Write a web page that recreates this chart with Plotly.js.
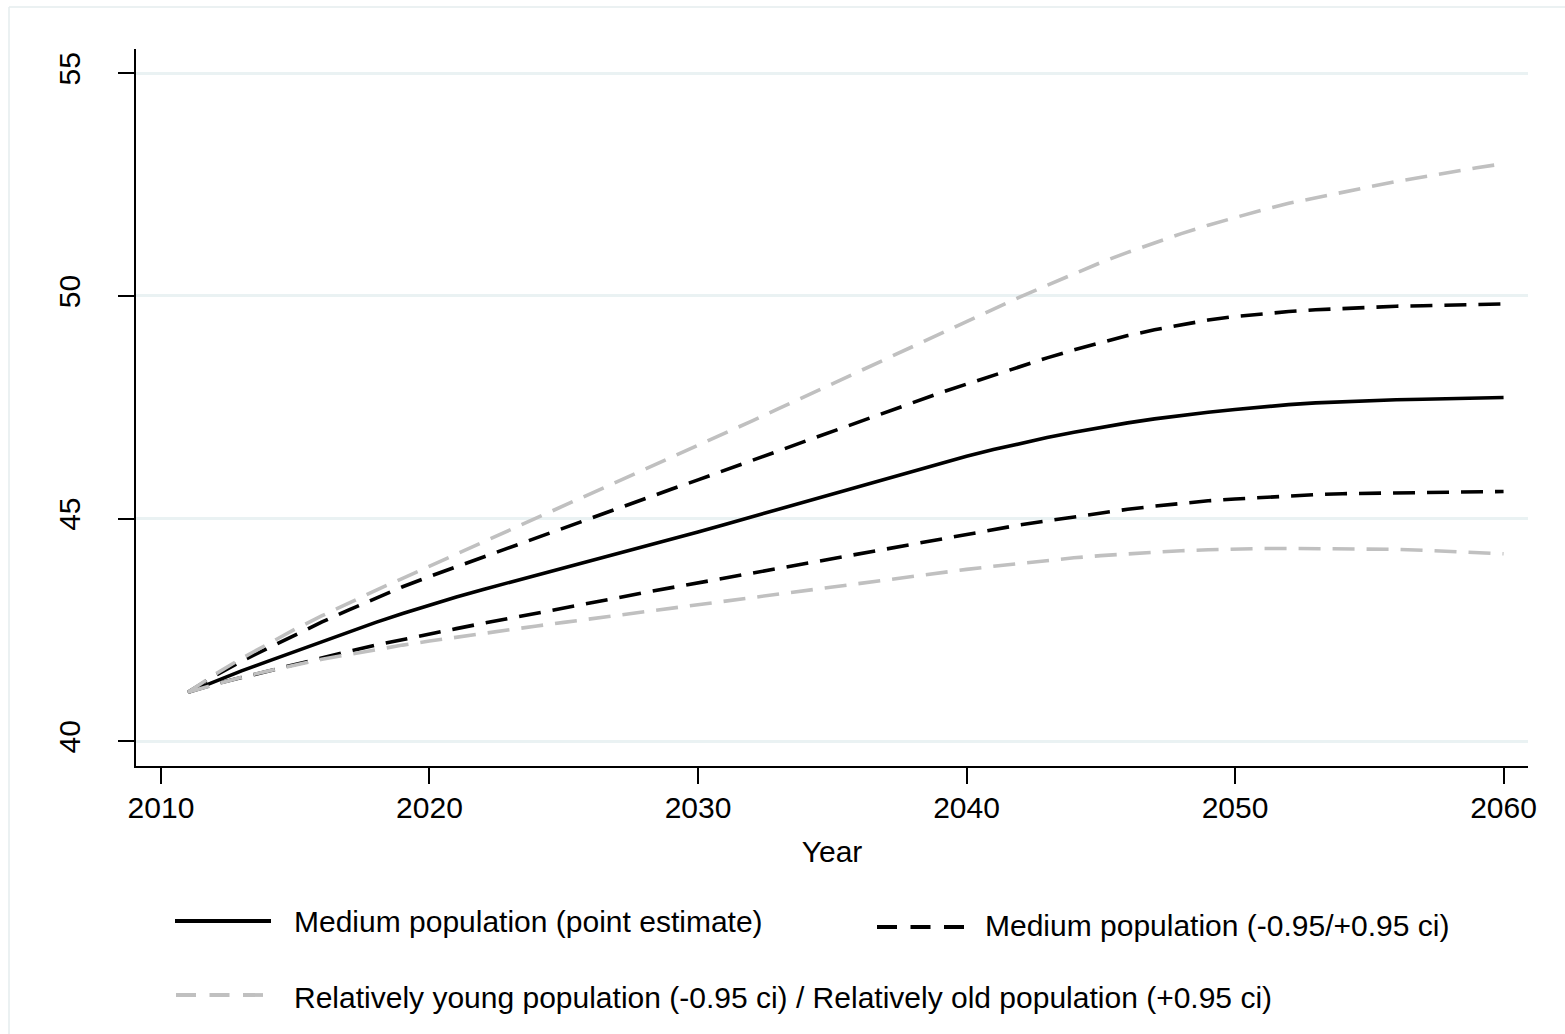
<!DOCTYPE html>
<html>
<head>
<meta charset="utf-8">
<script src="https://cdn.plot.ly/plotly-3.0.1.min.js"></script>
<style>
html, body { margin: 0; padding: 0; background: #ffffff; }
#chart { width: 1565px; height: 1034px; }
</style>
</head>
<body>
<div id="chart"></div>
<script>
// ---------------- data ----------------
const years = [2011, 2012, 2013, 2014, 2015, 2016, 2017, 2018, 2019, 2020,
               2021, 2022, 2023, 2024, 2025, 2026, 2027, 2028, 2029, 2030,
               2031, 2032, 2033, 2034, 2035, 2036, 2037, 2038, 2039, 2040,
               2041, 2042, 2043, 2044, 2045, 2046, 2047, 2048, 2049, 2050,
               2051, 2052, 2053, 2054, 2055, 2056, 2057, 2058, 2059, 2060];

const pointEstimate = [41.10, 41.35, 41.58, 41.80, 42.02, 42.24, 42.46, 42.67, 42.87, 43.06,
                       43.24, 43.41, 43.57, 43.73, 43.89, 44.05, 44.21, 44.37, 44.53, 44.70,
                       44.87, 45.04, 45.21, 45.38, 45.56, 45.74, 45.91, 46.08, 46.24, 46.40,
                       46.55, 46.69, 46.82, 46.94, 47.05, 47.15, 47.24, 47.32, 47.39, 47.45,
                       47.51, 47.56, 47.60, 47.63, 47.65, 47.67, 47.68, 47.69, 47.71, 47.72];

const mediumUpper = [41.10, 41.47, 41.80, 42.10, 42.40, 42.68, 42.95, 43.22, 43.47, 43.70,
                     43.92, 44.13, 44.35, 44.57, 44.79, 45.01, 45.23, 45.44, 45.66, 45.87,
                     46.08, 46.30, 46.52, 46.74, 46.96, 47.18, 47.40, 47.61, 47.82, 48.02,
                     48.22, 48.42, 48.61, 48.79, 48.96, 49.11, 49.24, 49.36, 49.46, 49.54,
                     49.60, 49.65, 49.69, 49.72, 49.75, 49.77, 49.78, 49.80, 49.81, 49.82];

const mediumLower = [41.10, 41.28, 41.43, 41.58, 41.74, 41.88, 42.02, 42.16, 42.29, 42.41,
                     42.53, 42.65, 42.76, 42.87, 42.98, 43.10, 43.22, 43.34, 43.45, 43.56,
                     43.67, 43.78, 43.89, 44.00, 44.11, 44.22, 44.33, 44.44, 44.55, 44.66,
                     44.76, 44.86, 44.95, 45.04, 45.13, 45.21, 45.28, 45.35, 45.40, 45.44,
                     45.48, 45.51, 45.54, 45.56, 45.57, 45.58, 45.59, 45.60, 45.61, 45.61];

const oldUpper = [41.10, 41.50, 41.86, 42.20, 42.52, 42.82, 43.11, 43.39, 43.66, 43.93,
                  44.20, 44.47, 44.74, 45.01, 45.28, 45.55, 45.82, 46.09, 46.36, 46.63,
                  46.91, 47.19, 47.47, 47.75, 48.03, 48.31, 48.59, 48.87, 49.15, 49.43,
                  49.71, 49.98, 50.24, 50.50, 50.75, 50.98, 51.20, 51.40, 51.59, 51.77,
                  51.93, 52.08, 52.21, 52.33, 52.45, 52.57, 52.68, 52.78, 52.88, 52.97];

const youngLower = [41.10, 41.28, 41.44, 41.58, 41.72, 41.84, 41.95, 42.06, 42.16, 42.25,
                    42.34, 42.43, 42.51, 42.59, 42.67, 42.75, 42.83, 42.91, 42.99, 43.07,
                    43.15, 43.23, 43.31, 43.39, 43.47, 43.55, 43.63, 43.71, 43.79, 43.86,
                    43.93, 44.00, 44.06, 44.12, 44.17, 44.21, 44.25, 44.28, 44.30, 44.32,
                    44.33, 44.33, 44.33, 44.33, 44.32, 44.31, 44.29, 44.27, 44.24, 44.21];

const legendLabels = [
  "Medium population (point estimate)",
  "Medium population (-0.95/+0.95 ci)",
  "Relatively young population (-0.95 ci) / Relatively old population (+0.95 ci)"
];
const xTickVals = [2010, 2020, 2030, 2040, 2050, 2060];
const xTickText = ["2010", "2020", "2030", "2040", "2050", "2060"];
const yTickVals = [40, 45, 50, 55];
const yTickText = ["40", "45", "50", "55"];
const xTitle = "Year";

// ---------------- styling ----------------
const W = 1565, H = 1034;
const M = { l: 136, r: 37, t: 49, b: 268 };
const PW = W - M.l - M.r, PH = H - M.t - M.b;
const px2x = p => (p - M.l) / PW;
const px2y = p => (H - M.b - p) / PH;

const FONT = "'Liberation Sans', Arial, Helvetica, sans-serif";
const BLACK = "#000000";
const GREY = "#C0C0C0";
const GRID = "#EAF2F3";
const plotDash = "22px,12px";
const keyDash = "20px,13.5px";

const solidLine = { color: BLACK, width: 3.6 };
const blackDash = { color: BLACK, width: 3.6, dash: plotDash };
const greyDash = { color: GREY, width: 3.6, dash: plotDash };

const traces = [
  { x: years, y: pointEstimate, name: legendLabels[0], type: "scatter", mode: "lines", line: solidLine, showlegend: false, hoverinfo: "skip" },
  { x: years, y: mediumUpper, name: legendLabels[1], type: "scatter", mode: "lines", line: blackDash, showlegend: false, hoverinfo: "skip" },
  { x: years, y: mediumLower, name: legendLabels[1], type: "scatter", mode: "lines", line: blackDash, showlegend: false, hoverinfo: "skip" },
  { x: years, y: oldUpper, name: legendLabels[2], type: "scatter", mode: "lines", line: greyDash, showlegend: false, hoverinfo: "skip" },
  { x: years, y: youngLower, name: legendLabels[2], type: "scatter", mode: "lines", line: greyDash, showlegend: false, hoverinfo: "skip" }
];

// legend keys (Stata-style long keys) built as paper shapes + annotations
const legendItems = [
  { label: legendLabels[0], key: { color: BLACK, width: 3.8 }, x0: 175, x1: 271, ky: 921, tx: 292, ty: 921 },
  { label: legendLabels[1], key: { color: BLACK, width: 3.8, dash: keyDash }, x0: 877, x1: 965, ky: 927, tx: 983, ty: 925 },
  { label: legendLabels[2], key: { color: GREY, width: 3.8, dash: keyDash }, x0: 176, x1: 263, ky: 995, tx: 292, ty: 997 }
];

const shapes = [
  // faint outer frame of the graph region
  { type: "line", xref: "paper", yref: "paper", x0: px2x(9), x1: px2x(1570), y0: px2y(7), y1: px2y(7), line: { color: "#E4ECEE", width: 1.5 } },
  { type: "line", xref: "paper", yref: "paper", x0: px2x(9), x1: px2x(9), y0: px2y(7), y1: px2y(1040), line: { color: "#E4ECEE", width: 1.5 } }
];
const annotations = [];
legendItems.forEach(it => {
  shapes.push({ type: "line", xref: "paper", yref: "paper",
    x0: px2x(it.x0), x1: px2x(it.x1), y0: px2y(it.ky), y1: px2y(it.ky), line: it.key });
  annotations.push({ xref: "paper", yref: "paper", x: px2x(it.tx), y: px2y(it.ty),
    xanchor: "left", yanchor: "middle", showarrow: false, text: it.label,
    font: { family: FONT, size: 30, color: BLACK } });
});

const tickFont = { family: FONT, size: 30, color: BLACK };

const layout = {
  width: W, height: H,
  margin: M,
  paper_bgcolor: "#ffffff",
  plot_bgcolor: "#ffffff",
  showlegend: false,
  xaxis: {
    range: [2009.07, 2060.91],
    tickvals: xTickVals, ticktext: xTickText,
    ticks: "outside", ticklen: 16, tickwidth: 2, tickcolor: BLACK,
    showline: true, linecolor: BLACK, linewidth: 2,
    showgrid: false, zeroline: false,
    tickfont: tickFont,
    ticklabelstandoff: -2,
    title: { text: xTitle, font: tickFont, standoff: 18 },
    automargin: false, fixedrange: true
  },
  yaxis: {
    range: [39.445, 55.546],
    tickvals: yTickVals, ticktext: yTickText,
    ticks: "outside", ticklen: 16, tickwidth: 2, tickcolor: BLACK,
    showline: true, linecolor: BLACK, linewidth: 2,
    showgrid: true, gridcolor: GRID, gridwidth: 3,
    zeroline: false,
    tickangle: -90,
    tickfont: tickFont,
    ticklabelstandoff: 26,
    automargin: false, fixedrange: true
  },
  shapes: shapes,
  annotations: annotations
};

Plotly.newPlot("chart", traces, layout, { displayModeBar: false, staticPlot: true });
</script>
</body>
</html>
